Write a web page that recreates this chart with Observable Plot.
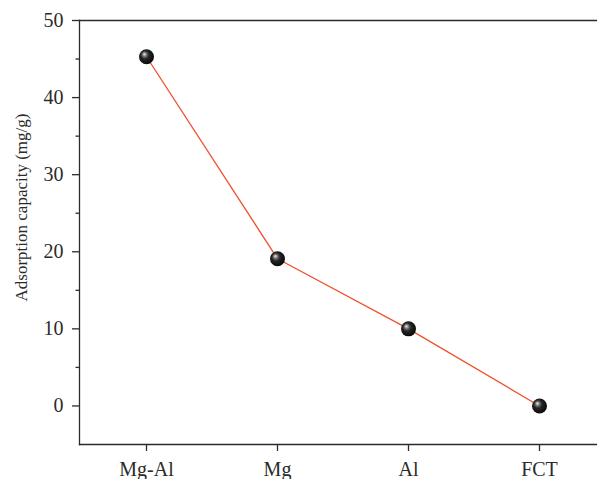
<!DOCTYPE html>
<html>
<head>
<meta charset="utf-8">
<script src="https://cdn.jsdelivr.net/npm/d3@7"></script>
<script src="https://cdn.jsdelivr.net/npm/@observablehq/plot@0.6"></script>
<style>
  html, body { margin: 0; padding: 0; background: #fff; }
</style>
</head>
<body>
<div id="chart"></div>
<script>
// Adsorption capacity of each adsorbent
const samples = ["Mg-Al", "Mg", "Al", "FCT"];
const capacity = [45.3, 19.1, 10.0, 0.0];
const majorTicks = [0, 10, 20, 30, 40, 50];
const minorTicks = [5, 15, 25, 35, 45];
const yLabel = "Adsorption capacity (mg/g)";

const data = samples.map((s, i) => ({sample: s, value: capacity[i]}));

const font = "'Liberation Serif', 'Times New Roman', serif";
const ink = "#2b2b2b";

const chart = Plot.plot({
  width: 597,
  height: 479,
  marginLeft: 79,
  marginRight: 0,
  marginTop: 20,
  marginBottom: 35,
  style: {fontFamily: font, color: ink, background: "#fff"},
  x: {type: "point", domain: samples, range: [145, 540], padding: 0},
  y: {domain: [-5, 50]},
  marks: [
    Plot.frame({anchor: "top", stroke: ink, strokeWidth: 1.3}),
    Plot.frame({anchor: "bottom", stroke: ink, strokeWidth: 1.3}),
    Plot.frame({anchor: "left", stroke: ink, strokeWidth: 1.3}),
    Plot.axisY({ticks: majorTicks, tickSize: 7, tickPadding: 9, fontSize: 20, strokeWidth: 1.3, label: null}),
    Plot.axisY({ticks: minorTicks, tickSize: 3.5, tickFormat: () => "", strokeWidth: 1.3, label: null}),
    Plot.axisX({tickSize: 7, tickPadding: 10, fontSize: 20, strokeWidth: 1.3, label: null}),
    Plot.text([yLabel], {frameAnchor: "left", textAnchor: "middle", dx: -58, dy: -25, rotate: -90, fontSize: 17, fill: ink}),
    Plot.line(data, {x: "sample", y: "value", stroke: "#f0502f", strokeWidth: 1.3}),
    Plot.dot(data, {x: "sample", y: "value", r: 7.5, fill: "url(#ball)", stroke: "none"})
  ]
});

// shaded sphere for the markers
const defs = d3.select(chart).insert("defs", ":first-child");
const g = defs.append("radialGradient").attr("id", "ball")
  .attr("cx", "45%").attr("cy", "45%").attr("r", "60%")
  .attr("fx", "35%").attr("fy", "32%");
g.append("stop").attr("offset", "0%").attr("stop-color", "#ffffff");
g.append("stop").attr("offset", "18%").attr("stop-color", "#8a8a8a");
g.append("stop").attr("offset", "45%").attr("stop-color", "#262626");
g.append("stop").attr("offset", "100%").attr("stop-color", "#050505");

document.getElementById("chart").append(chart);
</script>
</body>
</html>
